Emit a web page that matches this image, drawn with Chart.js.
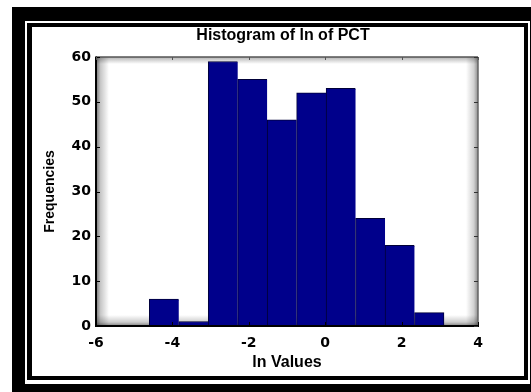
<!DOCTYPE html>
<html>
<head>
<meta charset="utf-8">
<script src="https://cdn.jsdelivr.net/npm/chart.js@4"></script>
<style>
  html, body { margin: 0; padding: 0; background: #ffffff; }
  canvas { display: block; }
</style>
</head>
<body>
<canvas id="hist" width="531" height="392"></canvas>
<script>
// Histogram bins: left/right edges of each bin and the count in it
const binEdges = [-4.605, -3.834, -3.062, -2.291, -1.519, -0.748, 0.024, 0.795, 1.567, 2.338, 3.110];
const frequencies = [6, 1, 59, 55, 46, 52, 53, 24, 18, 3];

// Axis tick values
const xTickValues = [-6, -4, -2, 0, 2, 4];
const yTickValues = [0, 10, 20, 30, 40, 50, 60];

const chartTitle = 'Histogram of ln of PCT';
const xLabel = 'ln Values';
const yLabel = 'Frequencies';

// one bar per bin, placed at the bin centre
const binPoints = frequencies.map((f, i) => ({ x: (binEdges[i] + binEdges[i + 1]) / 2, y: f }));

const tickFont = { family: '"DejaVu Sans", sans-serif', size: 14, weight: 'bold', lineHeight: 1.2 };

// double black frame around the whole figure
const figureFrame = {
  id: 'figureFrame',
  beforeDraw(chart) {
    const ctx = chart.ctx;
    ctx.save();
    ctx.fillStyle = '#000';
    ctx.fillRect(12, 7, 519, 385);
    ctx.fillStyle = '#fff';
    ctx.fillRect(25, 21, 505, 363);
    ctx.fillStyle = '#000';
    ctx.fillRect(27, 23, 501, 357);
    ctx.fillStyle = '#fff';
    ctx.fillRect(32, 27, 492, 349);
    ctx.restore();
  }
};

// soft inner shadow along the edges of the plotting area
const plotShadow = {
  id: 'plotShadow',
  beforeDatasetsDraw(chart) {
    const { ctx, chartArea: a } = chart;
    ctx.save();
    let g;
    g = ctx.createLinearGradient(a.left, 0, a.left + 13, 0);
    g.addColorStop(0, 'rgba(0,0,0,0.55)');
    g.addColorStop(0.35, 'rgba(0,0,0,0.22)');
    g.addColorStop(1, 'rgba(0,0,0,0)');
    ctx.fillStyle = g;
    ctx.fillRect(a.left, a.top, 13, a.bottom - a.top);

    g = ctx.createLinearGradient(0, a.bottom, 0, a.bottom - 11);
    g.addColorStop(0, 'rgba(0,0,0,0.5)');
    g.addColorStop(0.35, 'rgba(0,0,0,0.2)');
    g.addColorStop(1, 'rgba(0,0,0,0)');
    ctx.fillStyle = g;
    ctx.fillRect(a.left, a.bottom - 11, a.right - a.left, 11);

    g = ctx.createLinearGradient(a.right, 0, a.right - 12, 0);
    g.addColorStop(0, 'rgba(0,0,0,0.45)');
    g.addColorStop(0.35, 'rgba(0,0,0,0.18)');
    g.addColorStop(1, 'rgba(0,0,0,0)');
    ctx.fillStyle = g;
    ctx.fillRect(a.right - 12, a.top, 12, a.bottom - a.top);

    g = ctx.createLinearGradient(0, a.top, 0, a.top + 7);
    g.addColorStop(0, 'rgba(0,0,0,0.3)');
    g.addColorStop(1, 'rgba(0,0,0,0)');
    ctx.fillStyle = g;
    ctx.fillRect(a.left, a.top, a.right - a.left, 7);
    ctx.restore();
  }
};

// plot frame and inward-pointing tick marks on all four sides
const plotFrame = {
  id: 'plotFrame',
  afterDatasetsDraw(chart) {
    const { ctx, chartArea: a, scales } = chart;
    ctx.save();
    ctx.lineCap = 'butt';
    // top and right edges
    ctx.strokeStyle = '#555';
    ctx.lineWidth = 1.5;
    ctx.beginPath();
    ctx.moveTo(a.left, a.top);
    ctx.lineTo(a.right, a.top);
    ctx.stroke();
    ctx.strokeStyle = '#666';
    ctx.beginPath();
    ctx.moveTo(a.right, a.top);
    ctx.lineTo(a.right, a.bottom);
    ctx.stroke();
    // left and bottom edges
    ctx.strokeStyle = '#000';
    ctx.lineWidth = 2;
    ctx.beginPath();
    ctx.moveTo(a.left, a.top - 0.5);
    ctx.lineTo(a.left, a.bottom);
    ctx.lineTo(a.right + 1, a.bottom);
    ctx.stroke();

    const len = 4;
    ctx.lineWidth = 1;
    yTickValues.forEach(v => {
      const y = Math.round(scales.y.getPixelForValue(v)) + 0.5;
      ctx.strokeStyle = '#000';
      ctx.beginPath(); ctx.moveTo(a.left, y); ctx.lineTo(a.left + len, y); ctx.stroke();
      ctx.strokeStyle = '#333';
      ctx.beginPath(); ctx.moveTo(a.right, y); ctx.lineTo(a.right - len, y); ctx.stroke();
    });
    xTickValues.forEach(v => {
      const x = Math.round(scales.x.getPixelForValue(v)) + 0.5;
      ctx.strokeStyle = '#555';
      ctx.beginPath(); ctx.moveTo(x, a.top); ctx.lineTo(x, a.top + 3); ctx.stroke();
      ctx.strokeStyle = '#000';
      ctx.beginPath(); ctx.moveTo(x, a.bottom); ctx.lineTo(x, a.bottom - len); ctx.stroke();
    });
    ctx.restore();
  }
};

Chart.defaults.color = '#000';

new Chart(document.getElementById('hist'), {
  type: 'bar',
  data: {
    datasets: [{
      data: binPoints,
      backgroundColor: '#00008b',
      borderColor: '#000038',
      borderWidth: (c) => ({ top: 1, left: 1, right: c.dataIndex === frequencies.length - 1 ? 1 : 0, bottom: 0 }),
      borderSkipped: 'start',
      barPercentage: 1,
      categoryPercentage: 1
    }]
  },
  options: {
    responsive: false,
    animation: false,
    devicePixelRatio: 1,
    layout: { padding: { left: 35, right: 0, top: 0, bottom: 0 } },
    plugins: {
      legend: { display: false },
      tooltip: { enabled: false },
      title: {
        display: true,
        text: chartTitle,
        color: '#000',
        font: { family: '"Liberation Sans", Arial, sans-serif', size: 16, weight: 'bold', lineHeight: 1.2 },
        padding: { top: 26, bottom: 11.8 }
      }
    },
    scales: {
      x: {
        type: 'linear',
        position: 'bottom',
        min: -6,
        max: 4,
        offset: false,
        grid: { display: false, drawTicks: false },
        border: { display: false },
        afterBuildTicks: (s) => { s.ticks = xTickValues.map(v => ({ value: v })); },
        ticks: { font: tickFont, color: '#000', padding: 9, maxRotation: 0, autoSkip: false },
        title: {
          display: true,
          text: xLabel,
          color: '#000',
          font: { family: '"Liberation Sans", Arial, sans-serif', size: 16, weight: 'bold', lineHeight: 1.2 },
          padding: { top: 0, bottom: 19.7 }
        },
        afterFit: (s) => { s.height = 66; }
      },
      y: {
        type: 'linear',
        position: 'left',
        min: 0,
        max: 60,
        grid: { display: false, drawTicks: false },
        border: { display: false },
        afterBuildTicks: (s) => { s.ticks = yTickValues.map(v => ({ value: v })); },
        ticks: { font: tickFont, color: '#000', padding: 5 },
        title: {
          display: true,
          text: yLabel,
          color: '#000',
          font: { family: '"Liberation Sans", Arial, sans-serif', size: 14, weight: 'bold', lineHeight: 1.2 },
          padding: { top: 7.1, bottom: 0 }
        },
        afterFit: (s) => { s.width = 61; }
      },
      yRight: {
        type: 'linear',
        position: 'right',
        min: 0,
        max: 60,
        grid: { display: false, drawTicks: false },
        border: { display: false },
        ticks: { display: false },
        afterFit: (s) => { s.width = 53; }
      }
    }
  },
  plugins: [figureFrame, plotShadow, plotFrame]
});
</script>
</body>
</html>
